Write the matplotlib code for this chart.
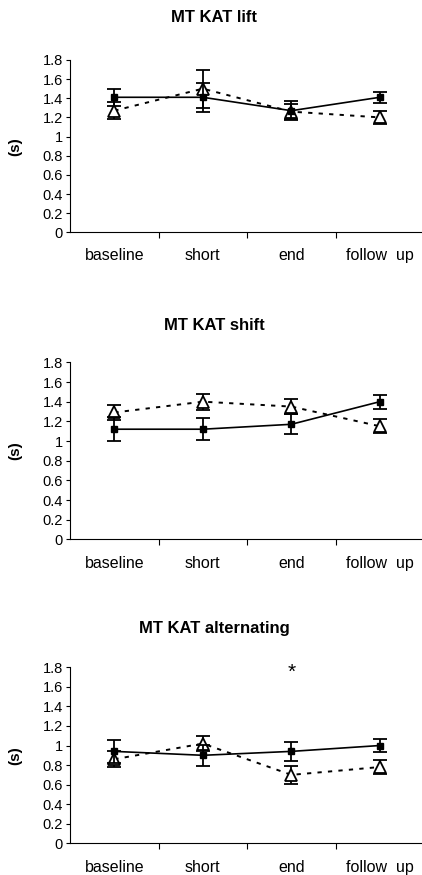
import numpy as np
import matplotlib.pyplot as plt

plt.rcParams['font.family'] = ['Liberation Sans', 'DejaVu Sans']

categories = ['baseline', 'short', 'end', 'follow  up']
titles = ['MT KAT lift', 'MT KAT shift', 'MT KAT alternating']

# solid line, filled squares
sq_mean = [[1.41, 1.41, 1.27, 1.41],
           [1.12, 1.12, 1.17, 1.40],
           [0.94, 0.90, 0.94, 1.00]]
sq_err = [[0.09, 0.15, 0.10, 0.06],
          [0.12, 0.11, 0.10, 0.07],
          [0.12, 0.11, 0.10, 0.07]]

# dotted line, open triangles
tri_mean = [[1.27, 1.50, 1.26, 1.20],
            [1.29, 1.40, 1.35, 1.15],
            [0.86, 1.02, 0.70, 0.78]]
tri_err = [[0.09, 0.20, 0.08, 0.07],
           [0.08, 0.08, 0.08, 0.07],
           [0.08, 0.08, 0.09, 0.07]]

yticks = [0, 0.2, 0.4, 0.6, 0.8, 1, 1.2, 1.4, 1.6, 1.8]
ytick_labels = ['0', '0.2', '0.4', '0.6', '0.8', '1', '1.2', '1.4', '1.6', '1.8']

fig = plt.figure(figsize=(4.22, 8.75), dpi=100)

# [left, bottom, width, height] for each panel
boxes = [[0.166, 0.7345, 0.839, 0.197],
         [0.166, 0.3836, 0.839, 0.2023],
         [0.166, 0.0362, 0.839, 0.2012]]
title_y = [1 - 18 / 875, 1 - 326 / 875, 1 - 629 / 875]

x = np.arange(len(categories)) + 0.5

for i in range(3):
    ax = fig.add_axes(boxes[i])
    ax.errorbar(x, tri_mean[i], yerr=tri_err[i], color='black', lw=1.4,
                ls=(0, (2.2, 3.2)), marker='^', ms=8, mfc='white', mec='black',
                mew=1.3, capsize=5, capthick=1.3, elinewidth=1.3, zorder=2)
    ax.errorbar(x, sq_mean[i], yerr=sq_err[i], color='black', lw=1.2,
                ls='-', marker='s', ms=5, mfc='black', mec='black',
                capsize=5, capthick=1.3, elinewidth=1.3, zorder=3)

    ax.set_xlim(0, 4)
    ax.set_ylim(0, 1.8)
    ax.set_yticks(yticks)
    ax.set_yticklabels(ytick_labels, fontsize=10.5)
    ax.set_xticks([1, 2, 3])
    ax.set_xticklabels([])
    for xi, lab in zip(x, categories):
        ax.text(xi, -0.135, lab, ha='center', va='center', fontsize=11.5,
                transform=ax.get_xaxis_transform())
    ax.tick_params(axis='x', direction='out', length=4, width=0.8)
    ax.tick_params(axis='y', direction='out', length=3, width=0.8, pad=2)
    ax.spines['top'].set_visible(False)
    ax.spines['right'].set_visible(False)
    ax.spines['left'].set_linewidth(0.8)
    ax.spines['bottom'].set_linewidth(0.8)
    ax.set_ylabel('(s)', fontsize=11, fontweight='bold')
    ax.yaxis.set_label_coords(-0.135, 0.5)

    fig.text(214 / 422, title_y[i], titles[i], ha='center', va='center',
             fontsize=12, fontweight='bold')

    if i == 2:
        ax.text(x[2], 1.75, '*', ha='center', va='center', fontsize=15)

fig.savefig('out.png', dpi=100)
